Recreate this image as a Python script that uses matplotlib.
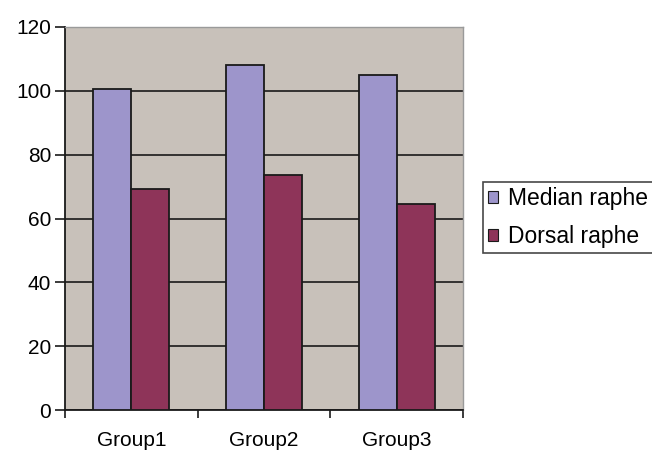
import matplotlib
matplotlib.use("Agg")
import matplotlib.pyplot as plt
import numpy as np
from matplotlib.patches import Patch

categories = ["Group1", "Group2", "Group3"]
median_raphe = [100.5, 108.1, 105.0]
dorsal_raphe = [69.2, 73.6, 64.6]
yticks = [0, 20, 40, 60, 80, 100, 120]

plt.rcParams['font.family'] = ['Liberation Sans', 'DejaVu Sans']

fig = plt.figure(figsize=(6.52, 4.55), dpi=100)
ax = fig.add_axes([65/652, 1-410/455, (463-65)/652, (410-27)/455])
ax.set_facecolor('#c8c1ba')

x = np.arange(len(categories))
w = 1/3.5
c1 = '#9d95cb'
c2 = '#8e3459'
ax.bar(x - w/2, median_raphe, w, color=c1, edgecolor='#1a1a1a', linewidth=1.3, zorder=3)
ax.bar(x + w/2, dorsal_raphe, w, color=c2, edgecolor='#1a1a1a', linewidth=1.3, zorder=3)

ax.set_xlim(-0.5, 2.5)
ax.set_ylim(0, 120)
ax.set_yticks(yticks)
ax.yaxis.grid(True, color='#1a1a1a', linewidth=1.2, zorder=1)
ax.set_axisbelow(True)
ax.set_xticks([-0.5, 0.5, 1.5, 2.5])
ax.set_xticklabels([])
ax.set_xticks(x, minor=True)
ax.set_xticklabels(categories, minor=True, fontsize=15)
ax.tick_params(axis='x', which='minor', length=0, pad=15)
ax.tick_params(axis='x', which='major', length=6, width=1.2, color='#1a1a1a', direction='out')
ax.tick_params(axis='y', length=7, width=1.2, color='#1a1a1a', labelsize=15, pad=3)

for s in ['left', 'bottom']:
    ax.spines[s].set_color('#1a1a1a')
    ax.spines[s].set_linewidth(1.3)
for s in ['top', 'right']:
    ax.spines[s].set_color('#9a9a9a')
    ax.spines[s].set_linewidth(1.0)

handles = [Patch(facecolor=c1, edgecolor='#1a1a1a', linewidth=0.8, label='Median raphe'),
           Patch(facecolor=c2, edgecolor='#1a1a1a', linewidth=0.8, label='Dorsal raphe')]
leg = fig.legend(handles=handles, loc='upper left', bbox_to_anchor=(483/652, 1-182/455),
                 fontsize=16.5, frameon=True, fancybox=False, edgecolor='#1a1a1a',
                 handlelength=0.45, handleheight=0.45, handletextpad=0.4, borderpad=0.22,
                 labelspacing=0.65, borderaxespad=0)
leg.get_frame().set_linewidth(1.2)

fig.savefig('out.png', dpi=100)
